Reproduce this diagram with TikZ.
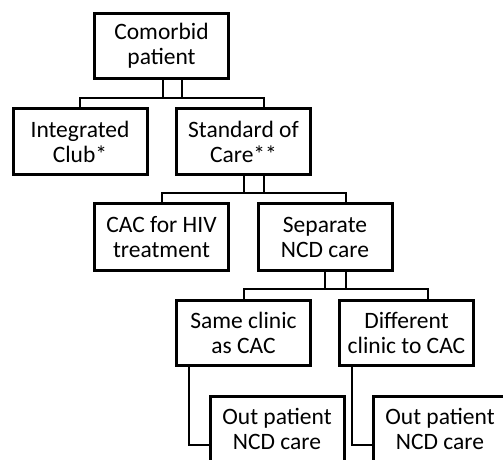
\documentclass[tikz,border=0pt]{standalone}
\usepackage{fontspec}
\setmainfont{Carlito}
\usetikzlibrary{calc}
\tikzset{
  box/.style={draw=black, line width=3pt, fill=white, inner sep=0pt,
    minimum width=134pt, minimum height=65pt, align=center,
    font=\fontsize{23.5pt}{25pt}\selectfont},
  conn/.style={draw=black, line width=2pt}
}
\begin{document}
\begin{tikzpicture}[x=1pt,y=-1pt]
\useasboundingbox (0,0) rectangle (503,460);
\clip (0,0) rectangle (503,460);
\fill[white] (0,0) rectangle (503,460);
% boxes
\node[box] (A) at (161.5,46) {Comorbid\\patient};
\node[box, minimum height=66pt] (B) at (80,141.5) {Integrated\\Club*};
\node[box, minimum height=66pt] (C) at (243.5,141.5) {Standard of\\Care**};
\node[box, minimum height=67pt] (D) at (161.5,237) {CAC for HIV\\treatment};
\node[box, minimum height=67pt] (E) at (325,237) {Separate\\NCD care};
\node[box] (F) at (243.5,333) {Same clinic\\as CAC};
\node[box] (G) at (406.5,333) {Different\\clinic to CAC};
\node[box] (H) at (277,429) {Out patient\\NCD care};
\node[box] (I) at (440,429) {Out patient\\NCD care};
% connectors A -> B, C
\draw[conn] ($(A.south)+(1.5,0)$) -- ++(0,18);
\draw[conn] ($(A.south)+(20.5,0)$) -- ++(0,18);
\draw[conn] (B.north) |- ($(A.south)+(0,18)$) -| ($(C.north)+(20.5,0)$);
% connectors C -> D, E
\draw[conn] ($(C.south)+(0,0)$) -- ++(0,17);
\draw[conn] ($(C.south)+(20.5,0)$) -- ++(0,17);
\draw[conn] (D.north) |- ($(C.south)+(0,17)$) -| ($(E.north)+(21,0)$);
% connectors E -> F, G
\draw[conn] ($(E.south)+(0,0)$) -- ++(0,17);
\draw[conn] ($(E.south)+(21,0)$) -- ++(0,17);
\draw[conn] (F.north) |- ($(E.south)+(0,17)$) -| ($(G.north)+(21.5,0)$);
% connectors F -> H, G -> I
\draw[conn] ($(F.south west)+(14,0)$) |- ($(H.west)+(0,16)$);
\draw[conn] ($(G.south west)+(14,0)$) |- ($(I.west)+(0,16)$);
\end{tikzpicture}
\end{document}
